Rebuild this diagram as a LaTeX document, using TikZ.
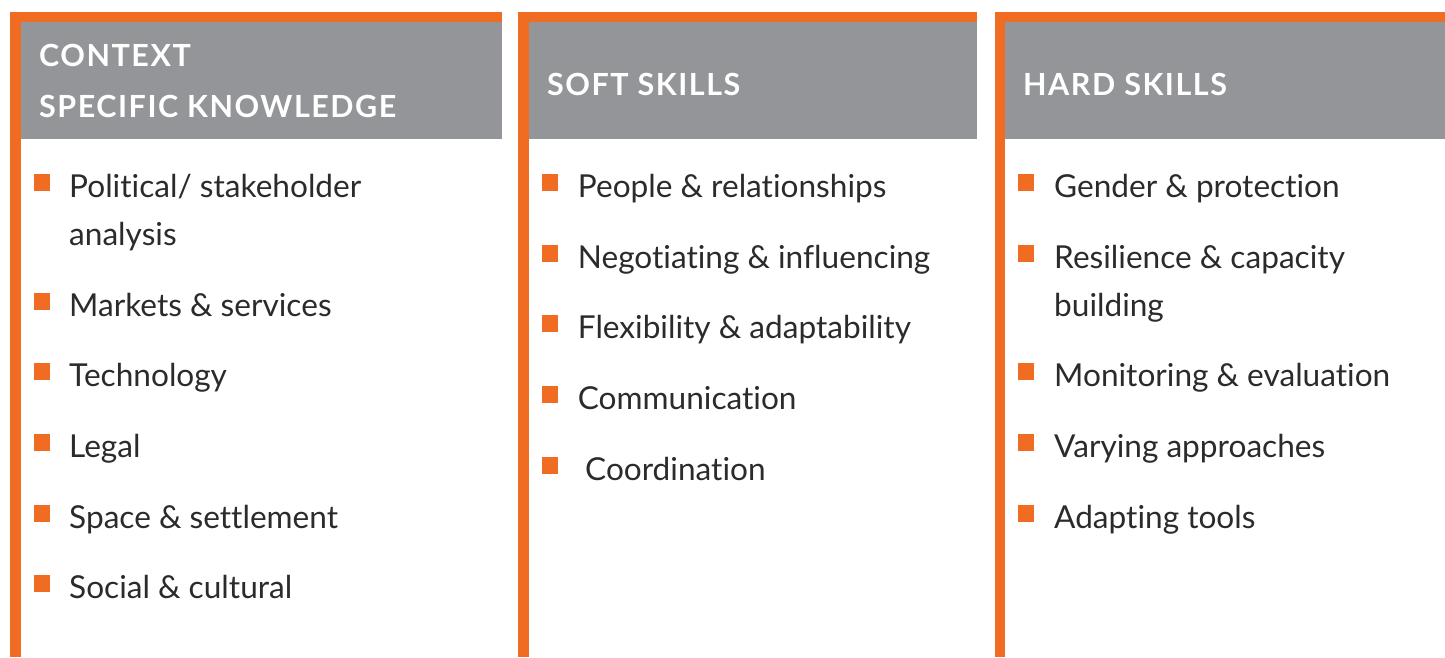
\documentclass[tikz,border=0pt]{standalone}
\usepackage{fontspec}
\setmainfont{Lato}[Ligatures={NoCommon}]
\newfontfamily\headfont[LetterSpace=5,Ligatures={NoCommon}]{Lato Bold}
\definecolor{orng}{HTML}{F06C23}
\definecolor{hgray}{HTML}{939598}
\definecolor{txt}{HTML}{2B2B2B}
\tikzset{
  htext/.style={anchor=base west, inner sep=0pt, text=white, font=\headfont\fontsize{30.5}{36}\selectfont},
  itext/.style={anchor=base west, inner sep=0pt, text=txt, font=\fontsize{31.6}{36}\selectfont},
  bul/.style={fill=orng, draw=none, minimum size=16.5pt, inner sep=0pt, anchor=north west},
}
\begin{document}
\begin{tikzpicture}[x=1pt,y=-1pt]
\useasboundingbox (0,0) rectangle (1445,657);
% column frames
\foreach \l/\r/\e in {10/20.7/502, 518.3/529/977, 994.7/1005/1445}{
  \fill[orng] (\l,12) rectangle (\e,22);
  \fill[orng] (\l,12) rectangle (\r,657);
  \fill[hgray] (\r,22) rectangle (\e,139);
}
% headers
\node[htext] (h1a) at (39,66) {CONTEXT};
\node[htext] (h1b) at (39,117) {SPECIFIC KNOWLEDGE};
\node[htext] (h2) at (547,95) {SOFT SKILLS};
\node[htext] (h3) at (1023,95) {HARD SKILLS};
% column 1
\foreach \n/\y/\t in {a/197/{Political/ stakeholder}, b/316/{Markets \& services}, c/386/{Technology}, d/457/{Legal}, e/528/{Space \& settlement}, f/598/{Social \& cultural}}{
  \node[bul] (b1\n) at (33.3,\y-23) {};
  \node[itext] (t1\n) at (69,\y) {\t};
}
\node[itext] (t1a2) at (69,245) {analysis};
% column 2
\foreach \n/\y/\t in {a/197/{People \& relationships}, b/268/{Negotiating \& influencing}, c/338/{Flexibility \& adaptability}, d/409/{Communication}}{
  \node[bul] (b2\n) at (541.7,\y-23) {};
  \node[itext] (t2\n) at (577.7,\y) {\t};
}
\node[bul] (b2e) at (541.7,457) {};
\node[itext] (t2e) at (585,480) {Coordination};
% column 3
\foreach \n/\y/\t in {a/197/{Gender \& protection}, b/268/{Resilience \& capacity}, c/386/{Monitoring \& evaluation}, d/457/{Varying approaches}, e/528/{Adapting tools}}{
  \node[bul] (b3\n) at (1017.7,\y-23) {};
  \node[itext] (t3\n) at (1054,\y) {\t};
}
\node[itext] (t3b2) at (1054,316) {building};
\end{tikzpicture}
\end{document}
